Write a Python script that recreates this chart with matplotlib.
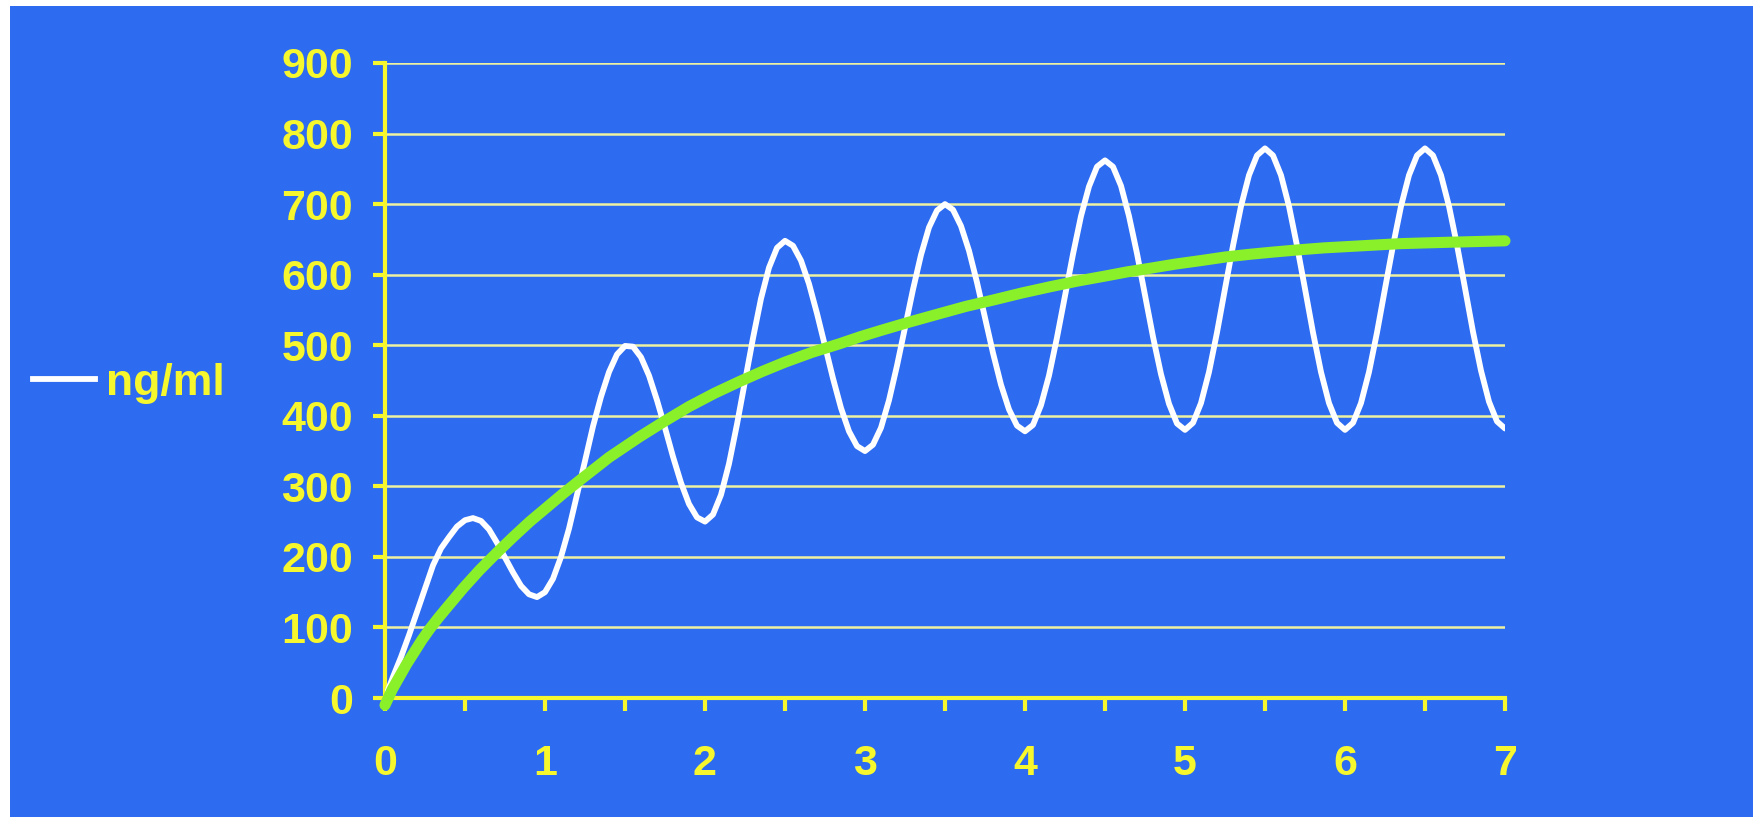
import numpy as np
import matplotlib.pyplot as plt
from matplotlib.patches import Rectangle
from matplotlib.lines import Line2D

# time (days), read every 0.05 day off the picture
days = [0.00, 0.05, 0.10, 0.15, 0.20, 0.25, 0.30, 0.35, 0.40, 0.45,
        0.50, 0.55, 0.60, 0.65, 0.70, 0.75, 0.80, 0.85, 0.90, 0.95,
        1.00, 1.05, 1.10, 1.15, 1.20, 1.25, 1.30, 1.35, 1.40, 1.45,
        1.50, 1.55, 1.60, 1.65, 1.70, 1.75, 1.80, 1.85, 1.90, 1.95,
        2.00, 2.05, 2.10, 2.15, 2.20, 2.25, 2.30, 2.35, 2.40, 2.45,
        2.50, 2.55, 2.60, 2.65, 2.70, 2.75, 2.80, 2.85, 2.90, 2.95,
        3.00, 3.05, 3.10, 3.15, 3.20, 3.25, 3.30, 3.35, 3.40, 3.45,
        3.50, 3.55, 3.60, 3.65, 3.70, 3.75, 3.80, 3.85, 3.90, 3.95,
        4.00, 4.05, 4.10, 4.15, 4.20, 4.25, 4.30, 4.35, 4.40, 4.45,
        4.50, 4.55, 4.60, 4.65, 4.70, 4.75, 4.80, 4.85, 4.90, 4.95,
        5.00, 5.05, 5.10, 5.15, 5.20, 5.25, 5.30, 5.35, 5.40, 5.45,
        5.50, 5.55, 5.60, 5.65, 5.70, 5.75, 5.80, 5.85, 5.90, 5.95,
        6.00, 6.05, 6.10, 6.15, 6.20, 6.25, 6.30, 6.35, 6.40, 6.45,
        6.50, 6.55, 6.60, 6.65, 6.70, 6.75, 6.80, 6.85, 6.90, 6.95,
        7.00]
ng_ml = [0, 30, 58, 89, 122, 155, 188, 212, 228, 243,
         252, 255, 251, 239, 220, 199, 178, 159, 147, 143,
         150, 169, 200, 240, 288, 336, 385, 427, 462, 487,
         499, 498, 483, 457, 422, 383, 342, 305, 275, 256,
         250, 260, 288, 332, 388, 449, 510, 566, 610, 638,
         648, 641, 620, 587, 545, 499, 453, 411, 378, 357,
         350, 359, 383, 422, 471, 525, 579, 628, 667, 691,
         700, 692, 669, 634, 589, 539, 489, 444, 409, 386,
         378, 387, 415, 457, 511, 570, 629, 683, 725, 753,
         762, 753, 726, 683, 630, 571, 512, 459, 417, 389,
         380, 390, 418, 462, 518, 580, 641, 697, 741, 769,
         779, 769, 741, 697, 641, 580, 518, 462, 418, 390,
         380, 390, 418, 462, 518, 580, 641, 697, 741, 769,
         779, 769, 741, 697, 642, 581, 519, 464, 420, 392,
         382]

# green trend line
trend_x = [0.0, 0.045, 0.09, 0.135, 0.18, 0.23, 0.28, 0.335, 0.39, 0.49,
           0.59, 0.695, 0.80, 0.905, 1.01, 1.115, 1.22, 1.4, 1.59, 1.745,
           1.9, 2.06, 2.22, 2.36, 2.5, 2.67, 2.84, 2.97, 3.1, 3.28,
           3.47, 3.63, 3.8, 3.98, 4.16, 4.33, 4.5, 4.64, 4.78, 4.94,
           5.1, 5.25, 5.41, 5.55, 5.7, 5.87, 6.03, 6.19, 6.35, 6.5,
           6.66, 6.83, 7.0]
trend_y = [-10, 12, 30, 48, 64, 82, 98, 114, 129, 156,
           181, 205, 228, 250, 270, 290, 309, 341, 370, 392,
           413, 432, 449, 463, 476, 490, 502, 512, 521, 533,
           545, 555, 564, 574, 583, 591, 598, 604, 609, 615,
           620, 625, 629, 632, 635, 638, 640, 642, 644, 645,
           646, 647, 648]

x_ticks = [0, 1, 2, 3, 4, 5, 6, 7]
y_ticks = [0, 100, 200, 300, 400, 500, 600, 700, 800, 900]

blue = '#2d6bf0'
yellow = '#f7f72e'
grid = '#eef2a0'

fig = plt.figure(figsize=(17.62, 8.21), dpi=100, facecolor='white')
fig.patches.append(Rectangle((10 / 1762, 4 / 821), 1743 / 1762, 811 / 821,
                             transform=fig.transFigure, facecolor=blue,
                             edgecolor='none', zorder=-10))

ax = fig.add_axes([385 / 1762, 123 / 821, 1120 / 1762, 635 / 821])
ax.set_facecolor(blue)
ax.set_xlim(0, 7)
ax.set_ylim(0, 900)

for v in y_ticks[1:]:
    ax.axhline(v, color=grid, lw=1.8, zorder=1)

ax.plot(days, ng_ml, color='white', lw=4.2, zorder=3,
        solid_joinstyle='round', solid_capstyle='round')
ax.plot(trend_x, trend_y, color='#8af02a', lw=8, zorder=4, clip_on=False,
        solid_joinstyle='round', solid_capstyle='round')

for s in ['top', 'right']:
    ax.spines[s].set_visible(False)
for s in ['left', 'bottom']:
    ax.spines[s].set_color(yellow)
    ax.spines[s].set_linewidth(3)

ax.set_yticks(y_ticks)
ax.set_xticks(x_ticks)
ax.set_xticks(np.arange(0.5, 7, 1), minor=True)
ax.tick_params(axis='y', direction='out', length=9, width=3, color=yellow,
               pad=14, labelsize=31, labelcolor=yellow)
ax.tick_params(axis='x', which='both', direction='out', length=9, width=3,
               color=yellow, pad=24, labelsize=31, labelcolor=yellow)
for lab in ax.get_xticklabels() + ax.get_yticklabels():
    lab.set_fontweight('bold')
    lab.set_family('Liberation Sans')

leg = fig.legend(handles=[Line2D([], [], color='white', lw=4.2)], labels=['ng/ml'],
                 loc='center left', bbox_to_anchor=(33 / 1762, 1 - 383 / 821),
                 frameon=False, handlelength=1.4, handletextpad=0.25,
                 borderpad=0, borderaxespad=0,
                 prop={'family': 'Liberation Sans', 'weight': 'bold', 'size': 32})
for t in leg.get_texts():
    t.set_color(yellow)

fig.savefig('out.png', dpi=100, facecolor='white')
